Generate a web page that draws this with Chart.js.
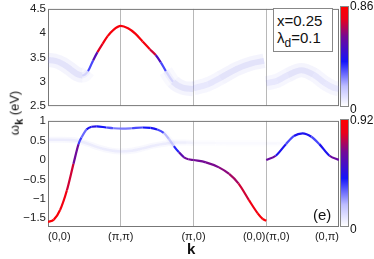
<!DOCTYPE html>
<html>
<head>
<meta charset="utf-8">
<script src="https://cdn.jsdelivr.net/npm/chart.js@4"></script>
<style>
body { margin: 0; background: #fff; font-family: "Liberation Sans", Arial, sans-serif; color: #111; }
#wrap { position: relative; width: 374px; height: 259px; overflow: hidden; }
canvas { position: absolute; left: 0; }
.lbl { position: absolute; white-space: nowrap; line-height: 1; }
.cbar { position: absolute; left: 340px; width: 9px; border: 1px solid #888; box-sizing: border-box; }
</style>
</head>
<body>
<div id="wrap">
  <canvas id="upper" width="374" height="115" style="top:0"></canvas>
  <canvas id="lower" width="374" height="147" style="top:112px"></canvas>

  <div class="lbl" style="left:16px; top:113px; font-size:13px; transform:translate(-50%,-50%) rotate(-90deg);">ω<sub style="font-weight:bold; font-size:11px;">k</sub> (eV)</div>
  <div class="lbl" style="left:187px; top:241px; font-size:15px; font-weight:bold;">k</div>

  <div class="lbl" style="left:273px; top:8px; width:60px; height:44px; border:1px solid #888; box-sizing:border-box; background:#fff; font-size:15px; padding:4px 0 0 3px;">
    x=0.25<br><span style="display:inline-block; margin-top:2px;">λ<sub style="font-size:12px;">d</sub>=0.1</span>
  </div>
  <div class="lbl" style="left:313px; top:207px; font-size:15px;">(e)</div>

  <div class="cbar" id="cb1" style="top:6px; height:101px;"></div>
  <div class="cbar" id="cb2" style="top:119px; height:108px;"></div>
  <div class="lbl" style="left:350px; top:0px; font-size:12px;">0.86</div>
  <div class="lbl" style="left:350px; top:103px; font-size:12px;">0</div>
  <div class="lbl" style="left:350px; top:114px; font-size:12px;">0.92</div>
  <div class="lbl" style="left:350px; top:223px; font-size:12px;">0</div>
</div>
<script>
// k path: (0,0) -> (pi,pi) -> (pi,0) -> (0,0) | (pi,0) -> (0,pi), one unit per leg
const kTicks = [0, 1, 2, 3, 4];
const kLabels = ['(0,0)', '(π,π)', '(π,0)', '(0,0)(π,0)', '(0,π)'];
const upTicks = [2.5, 3, 3.5, 4, 4.5];
const lowTicks = [-1.5, -1, -0.5, 0, 0.5, 1];

// upper band (weight = fraction of colorbar max 0.86)
const upK1 = [0, 0.1, 0.2, 0.3, 0.4, 0.47, 0.55, 0.62, 0.68, 0.75, 0.82, 0.9, 1.0, 1.1, 1.2, 1.3, 1.4, 1.48, 1.55, 1.62, 1.72, 1.85, 2.0];
const upE1 = [3.45, 3.43, 3.37, 3.27, 3.16, 3.13, 3.22, 3.44, 3.61, 3.78, 3.94, 4.07, 4.15, 4.1, 3.99, 3.83, 3.67, 3.55, 3.4, 3.22, 3.0, 2.88, 2.85];
const upW1 = [0.06, 0.06, 0.06, 0.07, 0.08, 0.12, 0.3, 0.45, 0.8, 0.93, 0.95, 0.95, 0.95, 0.95, 0.95, 0.95, 0.93, 0.75, 0.45, 0.3, 0.12, 0.07, 0.06];
const upK2 = [2.0, 2.2, 2.37, 2.6, 2.8, 2.97];
const upE2 = [2.87, 2.95, 3.08, 3.27, 3.38, 3.43];
const upW2 = [0.05, 0.05, 0.06, 0.06, 0.06, 0.06];
const upK3 = [3.0, 3.15, 3.3, 3.48, 3.65, 3.8, 3.92, 4.0];
const upE3 = [2.97, 3.02, 3.14, 3.24, 3.15, 2.98, 2.88, 2.85];
const upW3 = [0.05, 0.05, 0.06, 0.07, 0.06, 0.05, 0.05, 0.05];

// lower band (weight = fraction of colorbar max 0.92)
const lowK1 = [0, 0.08, 0.166, 0.26, 0.35, 0.42, 0.46, 0.53, 0.6, 0.67, 0.8, 0.9, 1.02, 1.15, 1.3, 1.41, 1.5, 1.59, 1.66, 1.73, 1.8, 1.87, 1.93, 2.0];
const lowE1 = [-1.6, -1.54, -1.29, -0.78, -0.1, 0.41, 0.58, 0.79, 0.86, 0.87, 0.84, 0.82, 0.81, 0.82, 0.84, 0.83, 0.79, 0.7, 0.55, 0.36, 0.2, 0.07, 0.02, 0.0];
const lowW1 = [0.97, 0.97, 0.95, 0.9, 0.78, 0.6, 0.2, 0.45, 0.5, 0.5, 0.4, 0.32, 0.3, 0.32, 0.42, 0.48, 0.45, 0.3, 0.2, 0.25, 0.6, 0.68, 0.7, 0.7];
const lowK2 = [2.0, 2.17, 2.35, 2.49, 2.62, 2.76, 2.88, 2.95, 3.0];
const lowE2 = [0.0, -0.06, -0.19, -0.36, -0.61, -1.03, -1.37, -1.52, -1.57];
const lowW2 = [0.7, 0.7, 0.72, 0.75, 0.8, 0.88, 0.95, 0.97, 0.97];
const lowK3 = [3.0, 3.13, 3.27, 3.38, 3.5, 3.62, 3.73, 3.87, 4.0];
const lowE3 = [0.0, 0.11, 0.41, 0.62, 0.69, 0.6, 0.41, 0.11, 0.0];
const lowW3 = [0.7, 0.65, 0.3, 0.45, 0.5, 0.45, 0.3, 0.65, 0.7];
// faint incoherent branch in the lower panel
const faintK1 = [0, 0.2, 0.4, 0.55, 0.7, 0.85, 1.0, 1.15, 1.3, 1.45, 1.6, 1.75, 1.9, 2.0];
const faintE1 = [0.52, 0.52, 0.5, 0.42, 0.32, 0.25, 0.22, 0.24, 0.3, 0.37, 0.42, 0.45, 0.45, 0.44];
const faintW1 = [0.04, 0.04, 0.04, 0.04, 0.04, 0.04, 0.04, 0.04, 0.04, 0.04, 0.04, 0.04, 0.03, 0.02];
const faintK2 = [2.0, 2.3, 2.6, 3.0];
const faintE2 = [0.44, 0.44, 0.43, 0.43];
const faintW2 = [0.015, 0.01, 0.01, 0.01];
const faintK3 = [3.0, 3.15, 3.3];
const faintE3 = [0.43, 0.43, 0.42];
const faintW3 = [0.015, 0.015, 0.01];

const cmapStops = [[0, [255, 255, 255]], [0.2, [190, 190, 255]], [0.45, [20, 20, 250]], [0.7, [115, 10, 150]], [0.88, [235, 0, 25]], [1, [255, 0, 0]]];

function cmap(w, a) {
    let i = 1;
    while (i < cmapStops.length - 1 && w > cmapStops[i][0]) i++;
    const [w0, c0] = cmapStops[i - 1], [w1, c1] = cmapStops[i];
    const t = Math.max(0, Math.min(1, (w - w0) / (w1 - w0)));
    const c = c0.map((v, j) => Math.round(v + (c1[j] - v) * t));
    return `rgba(${c[0]},${c[1]},${c[2]},${a})`;
}
const sharp = w => Math.max(0, Math.min(1, (w - 0.12) / 0.2));
// faint incoherent weight shows as a broad washed-out band
const haze = w => Math.min(1, w / 0.06) * (1 - sharp(w));

function branch(k, e, w, halo) {
    const pts = k.map((x, i) => ({ x: x, y: e[i] }));
    const mid = c => (w[c.p0DataIndex] + w[c.p1DataIndex]) / 2;
    const base = { data: pts, pointRadius: 0, borderColor: 'transparent', cubicInterpolationMode: 'monotone', fill: false };
    return [
        Object.assign({}, base, { borderWidth: halo * 2.4, segment: { borderColor: c => `rgba(150,150,240,${0.1 * haze(mid(c))})` } }),
        Object.assign({}, base, { borderWidth: halo, segment: { borderColor: c => `rgba(150,150,240,${0.18 * haze(mid(c))})` } }),
        Object.assign({}, base, { borderWidth: 2.2, segment: { borderColor: c => cmap(mid(c), sharp(mid(c))) } })
    ];
}

const frame = {
    id: 'frame',
    beforeDatasetsDraw(chart) {
        const a = chart.chartArea, ctx = chart.ctx;
        ctx.save();
        ctx.strokeStyle = '#777';
        ctx.lineWidth = 1;
        ctx.strokeRect(a.left + 0.5, a.top + 0.5, a.right - a.left - 1, a.bottom - a.top - 1);
        ctx.restore();
    }
};

Chart.defaults.font.family = '"Liberation Sans", Arial, sans-serif';
Chart.defaults.font.size = 11.5;
Chart.defaults.color = '#222';

function panel(id, datasets, yMin, yMax, yTicks, padTop, xHeight, showX) {
    return new Chart(document.getElementById(id), {
        type: 'line',
        data: { datasets: datasets },
        options: {
            responsive: false,
            animation: false,
            layout: { padding: { top: padTop, right: 35, left: 0, bottom: 0 } },
            plugins: { legend: { display: false }, tooltip: { enabled: false } },
            scales: {
                x: {
                    type: 'linear', min: 0, max: 4,
                    afterBuildTicks: s => { s.ticks = kTicks.map(v => ({ value: v })); },
                    afterFit: s => { s.height = xHeight; },
                    ticks: { display: showX, autoSkip: false, maxRotation: 0, align: 'inner', padding: 3, font: { size: 11 }, callback: (v, i) => kLabels[i] },
                    grid: { drawTicks: false, color: c => (c.tick && c.tick.value > 0 && c.tick.value < 4) ? '#b8b8b8' : 'transparent' },
                    border: { display: false }
                },
                y: {
                    min: yMin, max: yMax,
                    afterBuildTicks: s => { s.ticks = yTicks.map(v => ({ value: v })); },
                    afterFit: s => { s.width = 48; },
                    ticks: { padding: 2, callback: v => String(v).replace('-', '\u2212') },
                    grid: { display: false, drawTicks: false },
                    border: { display: false }
                }
            }
        },
        plugins: [frame]
    });
}

panel('upper', [].concat(
    branch(upK1, upE1, upW1, 6),
    branch(upK2, upE2, upW2, 6),
    branch(upK3, upE3, upW3, 6)
), 2.5, 4.5, upTicks, 6, 8, false);

panel('lower', [].concat(
    branch(faintK1, faintE1, faintW1, 2.5),
    branch(faintK2, faintE2, faintW2, 2.5),
    branch(faintK3, faintE3, faintW3, 2.5),
    branch(lowK1, lowE1, lowW1, 2.5),
    branch(lowK2, lowE2, lowW2, 2.5),
    branch(lowK3, lowE3, lowW3, 2.5)
), -1.73, 1.01, lowTicks, 7, 32, true);

const grad = 'linear-gradient(to top, ' + cmapStops.map(s => `rgb(${s[1].join(',')}) ${s[0] * 100}%`).join(', ') + ')';
document.getElementById('cb1').style.background = grad;
document.getElementById('cb2').style.background = grad;
</script>
</body>
</html>
